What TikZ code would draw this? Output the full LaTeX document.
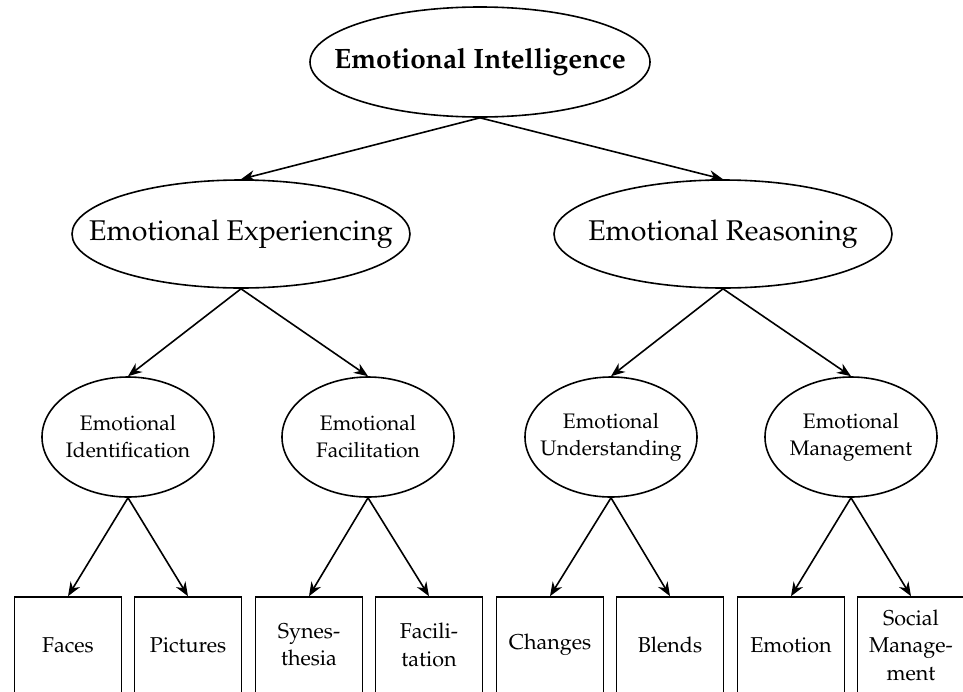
\documentclass[tikz,border=0pt]{standalone}
\usepackage[T1]{fontenc}
\usepackage{mathpazo}
\usetikzlibrary{shapes.geometric,arrows.meta}

\begin{document}
\begin{tikzpicture}[x=1pt, y=-1pt,
    top/.style={ellipse, draw, line width=1.6pt, inner sep=-100pt,
      minimum width=340pt, minimum height=110pt,
      font=\fontsize{28}{30}\selectfont\bfseries},
    branch/.style={ellipse, draw, line width=1.6pt, inner sep=-100pt,
      minimum width=338pt, minimum height=108pt,
      font=\fontsize{28.5}{30}\selectfont},
    facet/.style={ellipse, draw, line width=1.6pt, inner sep=-100pt,
      minimum width=172pt, minimum height=120pt, align=center,
      font=\fontsize{21}{27}\selectfont},
    leaf/.style={rectangle, draw, line width=1.6pt, inner sep=0pt,
      minimum width=107pt, minimum height=96pt, align=center,
      font=\fontsize{21.5}{27.5}\selectfont},
    arr/.style={-{Stealth[length=14pt, width=11pt]}, line width=1.6pt}]
    \path[use as bounding box, clip] (0,0) rectangle (963,691);

    % top
    \node[top] (EI) at (480,62) {Emotional Intelligence};

    % branches
    \node[branch] (EE) at (241,234) {Emotional Experiencing};
    \node[branch] (ER) at (723,234) {Emotional Reasoning};

    % facets
    \node[facet] (FI) at (128,437) {Emotional\\Identification};
    \node[facet] (FF) at (368,437) {Emotional\\Facilitation};
    \node[facet] (FU) at (611,437) {Emotional\\Understanding};
    \node[facet] (FM) at (851,437) {Emotional\\Management};

    % tasks
    \node[leaf] (faces) at (68,645) {Faces};
    \node[leaf] (pics) at (188,645) {Pictures};
    \node[leaf] (syn) at (309,645) {Synes-\\thesia};
    \node[leaf] (fac) at (429,645) {Facili-\\tation};
    \node[leaf] (chg) at (550,645) {Changes};
    \node[leaf] (bln) at (670,645) {Blends};
    \node[leaf] (emo) at (791,645) {Emotion};
    \node[leaf] (soc) at (911,645) {Social\\Manage-\\ment};

    \draw[arr] (EI.south) -- (EE.north);
    \draw[arr] (EI.south) -- (ER.north);
    \draw[arr] (EE.south) -- (FI.north);
    \draw[arr] (EE.south) -- (FF.north);
    \draw[arr] (ER.south) -- (FU.north);
    \draw[arr] (ER.south) -- (FM.north);
    \draw[arr] (FI.south) -- (faces.north);
    \draw[arr] (FI.south) -- (pics.north);
    \draw[arr] (FF.south) -- (syn.north);
    \draw[arr] (FF.south) -- (fac.north);
    \draw[arr] (FU.south) -- (chg.north);
    \draw[arr] (FU.south) -- (bln.north);
    \draw[arr] (FM.south) -- (emo.north);
    \draw[arr] (FM.south) -- (soc.north);
\end{tikzpicture}
\end{document}
